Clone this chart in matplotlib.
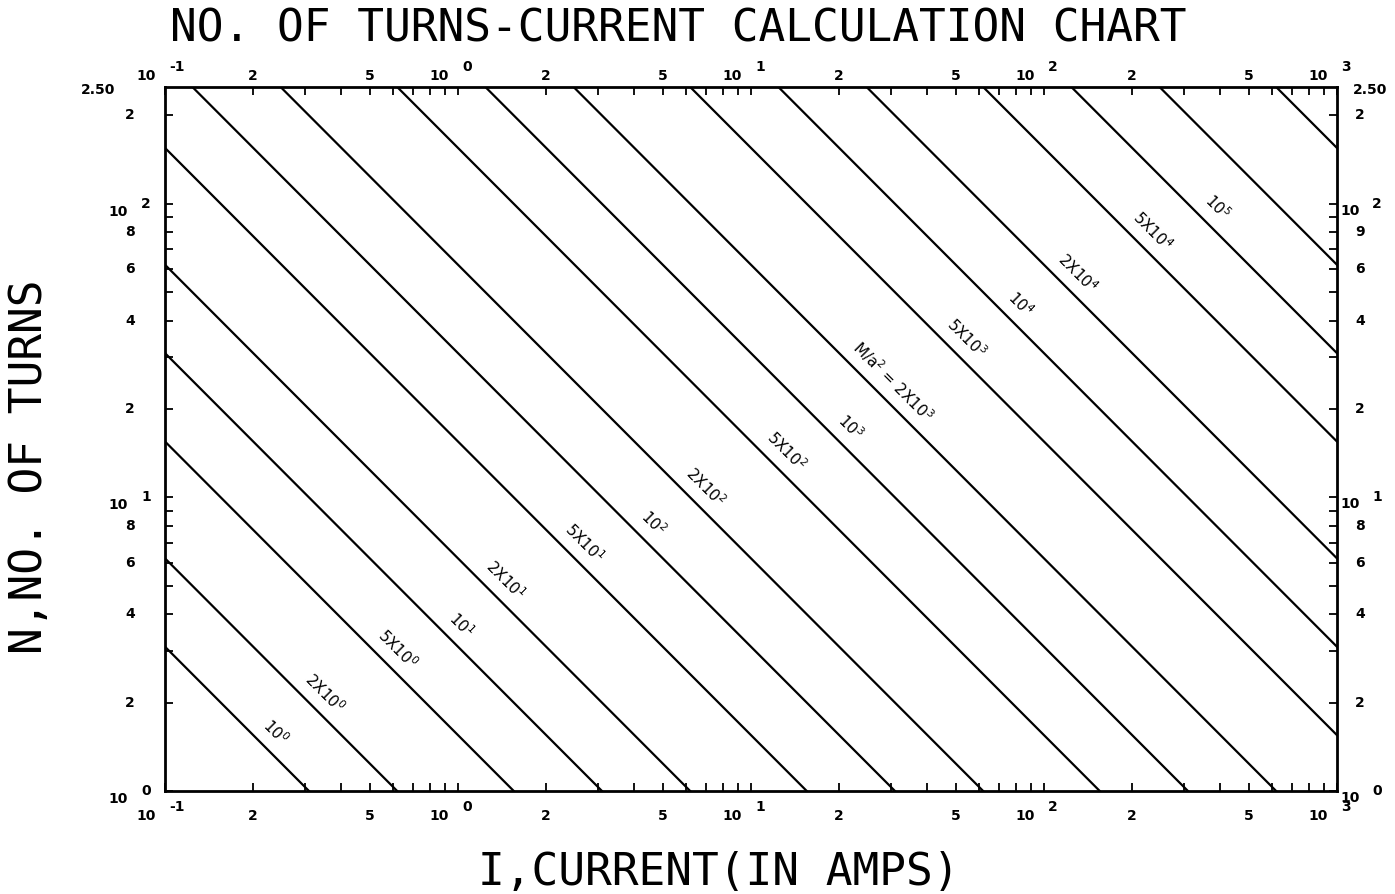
import numpy as np
import matplotlib.pyplot as plt
from matplotlib.ticker import LogLocator, NullFormatter

# M/a^2 value of each constant line
levels = [1, 2, 5, 10, 20, 50, 100, 200, 500, 1e3, 2e3, 5e3, 1e4, 2e4, 5e4, 1e5, 2e5, 5e5]
k_turns = 0.31  # N*I per unit of M/a^2

# line labels: text, line value, current where the label sits
label_text = ["10$^0$", "2X10$^0$", "5X10$^0$", "10$^1$", "2X10$^1$", "5X10$^1$",
              "10$^2$", "2X10$^2$", "5X10$^2$", "10$^3$", "M/a$^2$ = 2X10$^3$",
              "5X10$^3$", "10$^4$", "2X10$^4$", "5X10$^4$", "10$^5$"]
label_level = [1, 2, 5, 10, 20, 50, 100, 200, 500, 1e3, 2e3, 5e3, 1e4, 2e4, 5e4, 1e5]
label_I = [0.216, 0.318, 0.561, 0.929, 1.31, 2.44, 4.20, 6.31, 11.9, 19.8, 27.5,
           49.2, 75.4, 117.7, 211.6, 352.0]

x_decades = [-1, 0, 1, 2, 3]
y_decades = [0, 1, 2]
x_minor_vals = [0.2, 0.5, 2, 5, 20, 50, 200, 500]
x_minor_txt = ["2", "5", "2", "5", "2", "5", "2", "5"]
y_minor_vals = [2, 4, 6, 8, 20, 40, 60, 80, 200]
y_left_txt = ["2", "4", "6", "8", "2", "4", "6", "8", "2"]
y_right_txt = ["2", "4", "6", "8", "2", "4", "6", "9", "2"]

fig = plt.figure(figsize=(13.95, 8.94), dpi=100)
ax = fig.add_axes([0.1183, 0.1152, 0.8401, 0.7875])

I = np.array([0.1, 1000.0])
for lv in levels:
    ax.plot(I, k_turns * lv / I, color="black", lw=1.6)

ax.set_xscale("log")
ax.set_yscale("log")
ax.set_xlim(0.1, 1000)
ax.set_ylim(1, 250)

for axis in (ax.xaxis, ax.yaxis):
    axis.set_major_locator(LogLocator(base=10))
    axis.set_minor_locator(LogLocator(base=10, subs=np.arange(2, 10)))
    axis.set_minor_formatter(NullFormatter())
ax.tick_params(which="both", direction="in", top=True, right=True,
               length=6, width=1.3, labelbottom=False, labelleft=False)
for sp in ax.spines.values():
    sp.set_linewidth(2)

# line labels, set just above each line
for txt, lv, xi in zip(label_text, label_level, label_I):
    ax.annotate(txt, xy=(xi, k_turns * lv / xi), xytext=(13, 13),
                textcoords="offset pixels", rotation=-45, ha="center", va="center",
                fontsize=11, rotation_mode="anchor")

tk = dict(fontsize=10, fontweight="bold", color="black")
xc = ("data", "axes fraction")
yc = ("axes fraction", "data")

# x tick labels, bottom and top
for d in x_decades:
    v = 10.0 ** d
    for y0, dy in ((0, -25), (1, 11)):
        ax.annotate("10", xy=(v, y0), xycoords=xc, xytext=(-9, dy),
                    textcoords="offset pixels", ha="right", va="center", **tk)
        ax.annotate(str(d), xy=(v, y0), xycoords=xc, xytext=(4, dy + 9),
                    textcoords="offset pixels", ha="left", va="center", **tk)
for v, t in zip(x_minor_vals, x_minor_txt):
    ax.annotate(t, xy=(v, 0), xycoords=xc, xytext=(0, -25),
                textcoords="offset pixels", ha="center", va="center", **tk)
    ax.annotate(t, xy=(v, 1), xycoords=xc, xytext=(0, 11),
                textcoords="offset pixels", ha="center", va="center", **tk)

# y tick labels, left and right
for d in y_decades:
    v = 10.0 ** d
    ax.annotate("10", xy=(0, v), xycoords=yc, xytext=(-37, -8),
                textcoords="offset pixels", ha="right", va="center", **tk)
    ax.annotate(str(d), xy=(0, v), xycoords=yc, xytext=(-24, 0),
                textcoords="offset pixels", ha="left", va="center", **tk)
    ax.annotate("10", xy=(1, v), xycoords=yc, xytext=(3, -7),
                textcoords="offset pixels", ha="left", va="center", **tk)
    ax.annotate(str(d), xy=(1, v), xycoords=yc, xytext=(35, 0),
                textcoords="offset pixels", ha="left", va="center", **tk)
for v, tl, tr in zip(y_minor_vals, y_left_txt, y_right_txt):
    ax.annotate(tl, xy=(0, v), xycoords=yc, xytext=(-35, 0),
                textcoords="offset pixels", ha="center", va="center", **tk)
    ax.annotate(tr, xy=(1, v), xycoords=yc, xytext=(23, 0),
                textcoords="offset pixels", ha="center", va="center", **tk)
ax.annotate("2.50", xy=(0, 250), xycoords=yc, xytext=(-50, -3),
            textcoords="offset pixels", ha="right", va="center", **tk)
ax.annotate("2.50", xy=(1, 250), xycoords=yc, xytext=(16, -3),
            textcoords="offset pixels", ha="left", va="center", **tk)

big = dict(family="DejaVu Sans Mono", fontsize=32, color="black")
fig.text(0.486, 0.9676, "NO. OF TURNS-CURRENT CALCULATION CHART", ha="center", va="center", **big)
fig.text(0.515, 0.0246, "I,CURRENT(IN AMPS)", ha="center", va="center", **big)
fig.text(0.0208, 0.4776, "N,NO. OF TURNS", ha="center", va="center", rotation=90, **big)

fig.savefig("out.png", dpi=100)
